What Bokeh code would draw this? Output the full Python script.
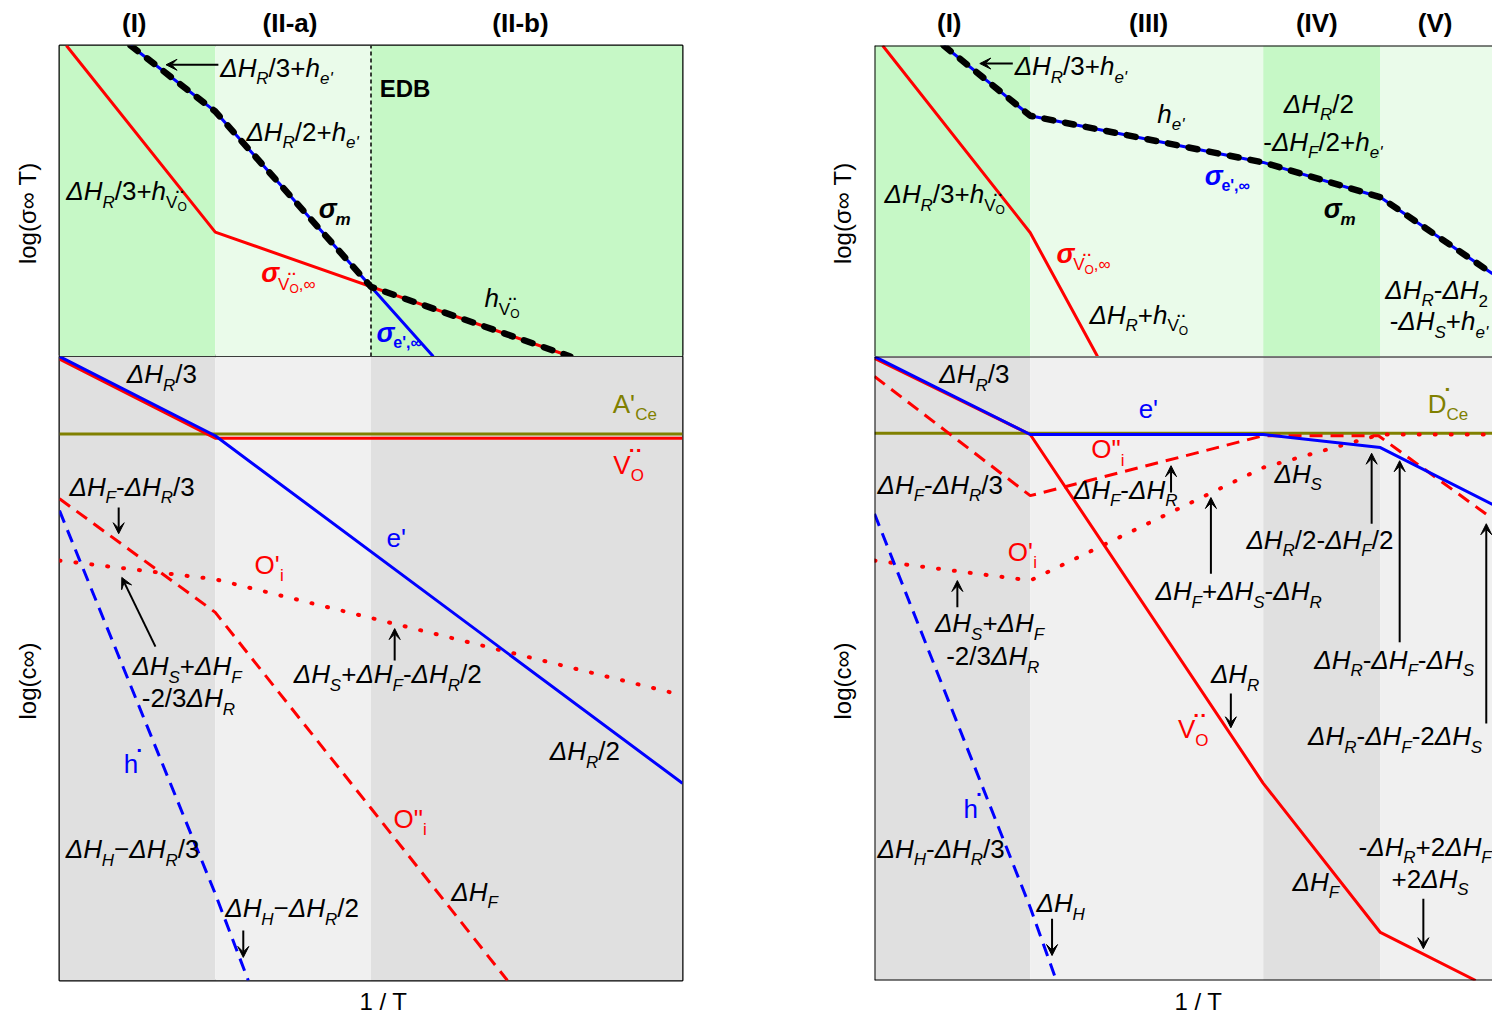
from bokeh.plotting import figure
from bokeh.models import ColumnDataSource, Range1d, FixedTicker, Arrow, VeeHead, Span
from bokeh.layouts import row, column
from bokeh.embed import file_html
from bokeh.resources import INLINE
from bokeh.core.properties import value

FONT = "Liberation Sans"
RED, BLUE, OLIVE, BLACK = "#ff0000", "#0000ff", "#808000", "#000000"
GREEN, PALE_GREEN = "#c6f8c6", "#eafbea"
GRAY, PALE_GRAY = "#e0e0e0", "#f0f0f0"

# ------------------------------------------------------------------
# Schematic data (arbitrary units).  x: 1/T, y: log(sigma*T) or log(c)
# ------------------------------------------------------------------
SIG_Y = (0, 50)
CON_Y = (0, 100)

# ---- left panel: regimes (I), (II-a), (II-b) ----
a_x_end = 100
a_edges = [0, 25, 50, 100]
a_regimes = ["(I)", "(II-a)", "(II-b)"]
a_regime_x = [12, 37, 74]

a_sigV_x = [1.1, 25, 82]
a_sigV_y = [50, 20, 0]
a_sige_x = [11.4, 25, 50, 60]
a_sige_y = [50, 39.4, 11.2, 0]
a_sigm_x = [11.4, 25, 50, 82]
a_sigm_y = [50, 39.4, 11.2, 0]
a_edb_x = 50

a_acc_y = 87.6
a_VO_x = [0, 25, 100]
a_VO_y = [99.6, 86.9, 86.9]
a_e_x = [0, 25, 100]
a_e_y = [100, 87.3, 31.6]
a_h_x = [0, 25, 30.3]
a_h_y = [75.3, 13.9, 0]
a_Oi2_x = [0, 25, 50, 71.9]
a_Oi2_y = [77.2, 59.0, 27.6, 0]
a_Oi1_x = [0, 25, 100]
a_Oi1_y = [67.3, 64.3, 45.7]

# ---- right panel: regimes (I), (III), (IV), (V) ----
b_x_end = 99.2
b_edges = [0, 25, 62.4, 81.2, 99.2]
b_regimes = ["(I)", "(III)", "(IV)", "(V)"]
b_regime_x = [12, 44, 71, 90]

b_sigV_x = [1.3, 25, 35.8]
b_sigV_y = [50, 19.9, 0]
b_sige_x = [11.1, 25, 62.4, 81.2, 99.2]
b_sige_y = [50, 38.7, 31.2, 25.6, 13.3]

b_don_y = 87.7
b_VO_x = [0, 25, 62.4, 81.2, 96.5]
b_VO_y = [99.7, 87.5, 31.6, 7.7, 0]
b_e_x = [0, 25, 62.4, 81.2, 99.2]
b_e_y = [100, 87.5, 87.5, 85.4, 76.3]
b_Oi2_x = [0, 25, 62.4, 80.9, 99.2]
b_Oi2_y = [96.8, 77.7, 87.3, 87.3, 74.0]
b_Oi1_x = [0, 25, 62.4, 81.2, 99.2]
b_Oi1_y = [67.3, 64.1, 82.2, 87.5, 87.5]
b_h_x = [0, 25, 28.9]
b_h_y = [74.8, 11.7, 0.8]

# ------------------------------------------------------------------
# Rich labels: each label is (x, y, colour, [(text, kind), ...]).
# kind selects size / baseline shift / style of a run of text.
# ------------------------------------------------------------------
KIND = {
    "i": (26, 0, "italic"),
    "n": (26, 0, "normal"),
    "bi": (27, 0, "bold italic"),
    "B": (24, 0, "bold"),
    "s": (17, 11, "italic"),
    "sn": (17, 11, "normal"),
    "sb": (17, 11, "bold italic"),
    "sbn": (16, 9, "bold"),
    "p": (21, -15, "bold"),
    "sp": (14, 1, "bold"),
    "ss": (12, 16, "normal"),
}
NO_ADVANCE = {"p", "sp"}
RAISE = -9  # lifts every run so the alphabetic baseline sits on (x, y)
EM = {"Δ": 0.667, "H": 0.722, "R": 0.722, "F": 0.611, "S": 0.667, "A": 0.667,
      "C": 0.722, "D": 0.722, "E": 0.667, "B": 0.722, "O": 0.778, "V": 0.667,
      "e": 0.556, "h": 0.556, "i": 0.222, "m": 0.889, "o": 0.556, "σ": 0.62,
      "'": 0.2, '"': 0.355, ",": 0.278, "∞": 0.713, "/": 0.278, "+": 0.584,
      "-": 0.333, "−": 0.584, "2": 0.556, "3": 0.556, "·": 0.278, " ": 0.278}


def run_width(text, size):
    return sum(EM.get(c, 0.556) for c in text) * size


def label_source(labels):
    cols = {k: [] for k in ("x", "y", "text", "xo", "yo", "size", "style", "color")}
    for x, y, color, runs in labels:
        off = 0.0
        for text, kind in runs:
            size, dy, style = KIND[kind]
            cols["x"].append(x)
            cols["y"].append(y)
            cols["text"].append(text)
            cols["xo"].append(off - (2 if kind in NO_ADVANCE else 0))
            cols["yo"].append(dy + RAISE)
            cols["size"].append(f"{size}px")
            cols["style"].append(style)
            cols["color"].append(color)
            if kind not in NO_ADVANCE:
                off += run_width(text, size)
    return ColumnDataSource(cols)


def dH(sub):
    return [("ΔH", "i"), (sub, "s")]


H_E = [("h", "i"), ("e'", "s")]
H_V = [("h", "i"), ("V", "sn"), ("··", "sp"), ("O", "ss")]
SIG_M = [("σ", "bi"), ("m", "sb")]
SIG_E = [("σ", "bi"), ("e',∞", "sbn")]
SIG_V = [("σ", "bi"), ("V", "sn"), ("··", "sp"), ("O", "ss"), (",∞", "sn")]
V_O = [("V", "n"), ("··", "p"), ("O", "sn")]

a_sig_labels = [
    (25.8, 45.0, BLACK, dH("R") + [("/3+", "n")] + H_E),
    (30.0, 34.7, BLACK, dH("R") + [("/2+", "n")] + H_E),
    (41.6, 22.3, BLACK, SIG_M),
    (1.1, 25.1, BLACK, dH("R") + [("/3+", "n")] + H_V),
    (32.4, 11.9, RED, SIG_V),
    (68.2, 7.9, BLACK, H_V),
    (50.9, 2.3, BLUE, SIG_E),
    (51.4, 41.6, BLACK, [("EDB", "B")]),
]
a_sig_arrows = dict(x0=[25.5], y0=[46.9], x1=[17.1], y1=[46.9])

a_con_labels = [
    (10.8, 95.7, BLACK, dH("R") + [("/3", "n")]),
    (88.8, 91.0, OLIVE, [("A'", "n"), ("Ce", "sn")]),
    (88.9, 81.2, RED, V_O),
    (1.6, 77.7, BLACK, dH("F") + [("-", "n")] + dH("R") + [("/3", "n")]),
    (52.5, 69.4, BLUE, [("e'", "n")]),
    (31.3, 65.2, RED, [("O'", "n"), ("i", "sn")]),
    (11.7, 48.9, BLACK, dH("S") + [("+", "n")] + dH("F")),
    (13.2, 43.8, BLACK, [("-2/3", "n")] + dH("R")),
    (37.6, 47.6, BLACK, dH("S") + [("+", "n")] + dH("F") + [("-", "n")] + dH("R") + [("/2", "n")]),
    (78.7, 35.3, BLACK, dH("R") + [("/2", "n")]),
    (10.3, 33.2, BLUE, [("h", "n"), ("·", "p")]),
    (53.6, 24.5, RED, [('O"', "n"), ("i", "sn")]),
    (1.0, 19.6, BLACK, dH("H") + [("−", "n")] + dH("R") + [("/3", "n")]),
    (62.9, 12.8, BLACK, dH("F")),
    (26.6, 10.1, BLACK, dH("H") + [("−", "n")] + dH("R") + [("/2", "n")]),
]
a_con_arrows = dict(x0=[9.5, 15.4, 53.8, 29.5], y0=[75.8, 53.5, 51.3, 8.0],
                    x1=[9.5, 10.0, 53.8, 29.5], y1=[71.6, 64.6, 56.4, 3.7])

b_sig_labels = [
    (22.5, 45.2, BLACK, dH("R") + [("/3+", "n")] + H_E),
    (45.4, 37.6, BLACK, H_E),
    (65.7, 39.2, BLACK, dH("R") + [("/2", "n")]),
    (62.4, 33.1, BLACK, [("-", "n")] + dH("F") + [("/2+", "n")] + H_E),
    (53.0, 27.5, BLUE, SIG_E),
    (72.1, 22.3, BLACK, SIG_M),
    (1.6, 24.6, BLACK, dH("R") + [("/3+", "n")] + H_V),
    (29.2, 15.1, RED, SIG_V),
    (34.5, 5.3, BLACK, dH("R") + [("+", "n")] + H_V),
    (82.0, 9.3, BLACK, dH("R") + [("-", "n"), ("ΔH", "i"), ("2", "sn")]),
    (82.7, 4.2, BLACK, [("-", "n")] + dH("S") + [("+", "n")] + H_E),
]
b_sig_arrows = dict(x0=[22.2], y0=[47.1], x1=[16.9], y1=[47.1])

b_con_labels = [
    (10.4, 95.7, BLACK, dH("R") + [("/3", "n")]),
    (42.4, 90.1, BLUE, [("e'", "n")]),
    (88.8, 91.0, OLIVE, [("D", "n"), ("·", "p"), ("Ce", "sn")]),
    (34.8, 83.7, RED, [('O"', "n"), ("i", "sn")]),
    (0.5, 78.0, BLACK, dH("F") + [("-", "n")] + dH("R") + [("/3", "n")]),
    (32.0, 77.2, BLACK, dH("F") + [("-", "n")] + dH("R")),
    (64.2, 79.8, BLACK, dH("S")),
    (59.7, 69.2, BLACK, dH("R") + [("/2-", "n")] + dH("F") + [("/2", "n")]),
    (21.4, 67.3, RED, [("O'", "n"), ("i", "sn")]),
    (45.1, 60.9, BLACK, dH("F") + [("+", "n")] + dH("S") + [("-", "n")] + dH("R")),
    (9.7, 55.8, BLACK, dH("S") + [("+", "n")] + dH("F")),
    (11.5, 50.5, BLACK, [("-2/3", "n")] + dH("R")),
    (70.6, 50.0, BLACK, dH("R") + [("-", "n")] + dH("F") + [("-", "n")] + dH("S")),
    (54.0, 47.6, BLACK, dH("R")),
    (48.7, 38.8, RED, V_O),
    (69.6, 37.7, BLACK, dH("R") + [("-", "n")] + dH("F") + [("-2", "n")] + dH("S")),
    (14.3, 26.1, BLUE, [("h", "n"), ("·", "p")]),
    (0.5, 19.7, BLACK, dH("H") + [("-", "n")] + dH("R") + [("/3", "n")]),
    (77.7, 20.0, BLACK, [("-", "n")] + dH("R") + [("+2", "n")] + dH("F")),
    (83.0, 14.9, BLACK, [("+2", "n")] + dH("S")),
    (26.0, 10.9, BLACK, dH("H")),
    (67.1, 14.4, BLACK, dH("F")),
]
b_con_arrows = dict(
    x0=[47.6, 79.8, 84.3, 54.0, 13.3, 57.2, 98.2, 28.5, 88.1],
    y0=[78.2, 73.2, 54.2, 65.2, 59.8, 46.0, 41.2, 9.9, 13.1],
    x1=[47.6, 79.8, 84.3, 54.0, 13.3, 57.2, 98.2, 28.5, 88.1],
    y1=[82.5, 84.5, 83.3, 77.4, 64.1, 40.5, 73.2, 4.0, 5.1],
)

SIG_AXIS = "log(σ∞ T)"
CON_AXIS = "log(c∞)"
SIG_AXIS_Y = 23
CON_AXIS_Y = 48
INV_T_X = 52


# ------------------------------------------------------------------
def base_fig(x_end, y_rng, fw, fh, top, bottom, right, xloc):
    p = figure(x_range=Range1d(0, x_end), y_range=Range1d(*y_rng),
               frame_width=fw, frame_height=fh,
               min_border_left=59, min_border_right=right,
               min_border_top=top, min_border_bottom=bottom,
               x_axis_location=xloc, toolbar_location=None, tools="",
               output_backend="svg", background_fill_color="white",
               border_fill_color="white")
    p.xgrid.visible = False
    p.ygrid.visible = False
    return p


def style_axis(ax, ticks, names, size, bold=False, orient="horizontal", standoff=8):
    ax.ticker = FixedTicker(ticks=ticks)
    ax.major_label_overrides = dict(zip(ticks, names))
    ax.major_label_orientation = orient
    ax.major_label_text_font = FONT
    ax.major_label_text_font_size = size
    ax.major_label_text_font_style = "bold" if bold else "normal"
    ax.major_label_text_color = BLACK
    ax.major_label_standoff = standoff
    ax.major_tick_line_color = None
    ax.minor_tick_line_color = None
    ax.major_tick_out = 0
    ax.major_tick_in = 0
    ax.axis_line_color = None


def add_text(p, labels):
    p.text(x="x", y="y", text="text", x_offset="xo", y_offset="yo",
           text_font_size="size", text_font_style="style", text_color="color",
           text_font=value(FONT), text_align="left", text_baseline="alphabetic",
           source=label_source(labels))


def add_arrows(p, arr):
    p.add_layout(Arrow(end=VeeHead(size=11, fill_color=BLACK, line_color=BLACK, line_width=1),
                       x_start="x0", y_start="y0", x_end="x1", y_end="y1",
                       line_color=BLACK, line_width=2, source=ColumnDataSource(arr)))


def backgrounds(p, edges, fills, y_rng):
    p.quad(left=edges[:-1], right=edges[1:], bottom=y_rng[0], top=y_rng[1],
           fill_color=fills, line_color=None)


def conductivity(p, edges, fills, sigV, sige, sigm, regimes, regime_x, edb=None):
    backgrounds(p, edges, fills, SIG_Y)
    if edb is not None:
        p.line([edb, edb], list(SIG_Y), line_color=BLACK, line_width=1.5, line_dash="4 3")
    p.line(*sigV, line_color=RED, line_width=3)
    p.line(*sige, line_color=BLUE, line_width=3)
    p.line(*sigm, line_color=BLACK, line_width=6.5, line_dash="9 12", line_cap="round")
    style_axis(p.xaxis[0], regime_x, regimes, "26px", bold=True, standoff=8)
    style_axis(p.yaxis[0], [SIG_AXIS_Y], [SIG_AXIS], "24px", orient="parallel", standoff=18)


def concentration(p, edges, fills, dopant_y, Oi1, Oi2, h, VO, e):
    backgrounds(p, edges, fills, CON_Y)
    p.line([0, edges[-1]], [dopant_y, dopant_y], line_color=OLIVE, line_width=3)
    p.line(*Oi1, line_color=RED, line_width=4, line_dash="1 15", line_cap="round")
    p.line(*Oi2, line_color=RED, line_width=3, line_dash="13 8")
    p.line(*h, line_color=BLUE, line_width=3, line_dash="13 8")
    p.line(*VO, line_color=RED, line_width=3)
    p.line(*e, line_color=BLUE, line_width=3)
    style_axis(p.xaxis[0], [INV_T_X], ["1 / T"], "24px", standoff=7)
    style_axis(p.yaxis[0], [CON_AXIS_Y], [CON_AXIS], "24px", orient="parallel", standoff=18)


# ---- left panel ----
lt = base_fig(a_x_end, SIG_Y, 623, 311, 45, 0, 133, "above")
conductivity(lt, a_edges, [GREEN, PALE_GREEN, GREEN],
             (a_sigV_x, a_sigV_y), (a_sige_x, a_sige_y), (a_sigm_x, a_sigm_y),
             a_regimes, a_regime_x, edb=a_edb_x)
add_text(lt, a_sig_labels)
add_arrows(lt, a_sig_arrows)

lb = base_fig(a_x_end, CON_Y, 623, 624, 0, 36, 133, "below")
concentration(lb, a_edges, [GRAY, PALE_GRAY, GRAY], a_acc_y,
              (a_Oi1_x, a_Oi1_y), (a_Oi2_x, a_Oi2_y), (a_h_x, a_h_y),
              (a_VO_x, a_VO_y), (a_e_x, a_e_y))
add_text(lb, a_con_labels)
add_arrows(lb, a_con_arrows)

for p in (lt, lb):
    p.outline_line_color = BLACK
    p.outline_line_width = 2

# ---- right panel (open on its right-hand side) ----
rt = base_fig(b_x_end, SIG_Y, 618, 311, 45, 0, 0, "above")
conductivity(rt, b_edges, [GREEN, PALE_GREEN, GREEN, PALE_GREEN],
             (b_sigV_x, b_sigV_y), (b_sige_x, b_sige_y), (b_sige_x, b_sige_y),
             b_regimes, b_regime_x)
add_text(rt, b_sig_labels)
add_arrows(rt, b_sig_arrows)

rb = base_fig(b_x_end, CON_Y, 618, 624, 0, 36, 0, "below")
concentration(rb, b_edges, [GRAY, PALE_GRAY, GRAY, PALE_GRAY], b_don_y,
              (b_Oi1_x, b_Oi1_y), (b_Oi2_x, b_Oi2_y), (b_h_x, b_h_y),
              (b_VO_x, b_VO_y), (b_e_x, b_e_y))
add_text(rb, b_con_labels)
add_arrows(rb, b_con_arrows)

for p in (rt, rb):
    p.outline_line_color = None
    p.add_layout(Span(location=0, dimension="height", line_color=BLACK, line_width=2))
rt.add_layout(Span(location=SIG_Y[1], dimension="width", line_color=BLACK, line_width=2))
rb.add_layout(Span(location=CON_Y[1], dimension="width", line_color=BLACK, line_width=2))
rb.add_layout(Span(location=CON_Y[0], dimension="width", line_color=BLACK, line_width=2))

layout = row(column(lt, lb), column(rt, rb))
open("out.html", "w").write(file_html(layout, INLINE))
